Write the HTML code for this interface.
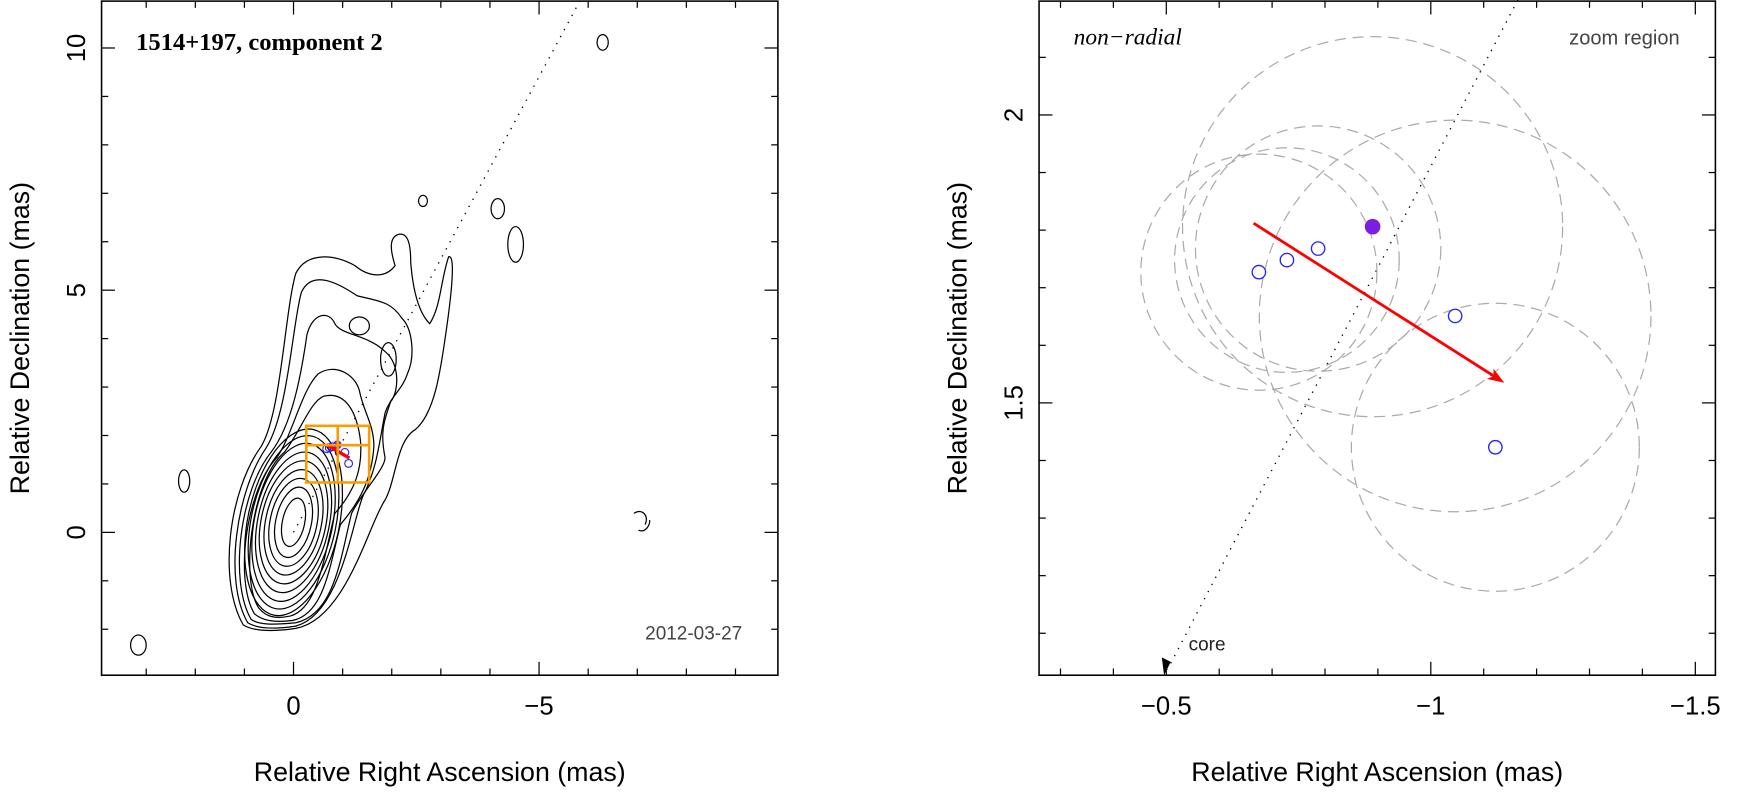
<!DOCTYPE html>
<html><head><meta charset="utf-8"><style>
body{margin:0;background:#fff}
svg{display:block;font-family:"Liberation Sans",sans-serif}
</style></head><body>
<svg width="1750" height="793">
<g transform="scale(1.11607)">
<g id="left"></g>
<g id="right"></g>
</g>
</svg>
<script>
const NS="http://www.w3.org/2000/svg";
function mk(p,t,a){const e=document.createElementNS(NS,t);for(const k in a)e.setAttribute(k,a[k]);p.appendChild(e);return e;}
// ---- data
const leftXTicks=[0,-5];
const leftYTicks=[0,5,10];
const rightXTicks=[-0.5,-1,-1.5];
const rightYTicks=[1.5,2];
const compRA=[-0.675,-0.728,-0.787,-1.046,-1.122];
const compDec=[1.727,1.748,1.768,1.651,1.423];
const compR=[0.205,0.195,0.213,0.34,0.25];
const filledRA=[-0.890];const filledDec=[1.806];
const filledR=[0.33];
const arrowRA=[-0.665,-1.139];const arrowDec=[1.812,1.535];
// ---- left panel
const L=document.getElementById('left');
const lx=ra=>263-44*ra, ly=d=>477-43.4*d;
const LX0=91,LX1=697,LY0=1,LY1=605;
mk(L,'rect',{x:LX0,y:LY0,width:LX1-LX0,height:LY1-LY0,fill:'none',stroke:'#000','stroke-width':1.4});
for(let r=3;r>=-9;r--){const x=lx(r),M=r%5===0;const s=M?12:6;
mk(L,'line',{x1:x,y1:LY1,x2:x,y2:LY1-s,stroke:'#000','stroke-width':1.1});
mk(L,'line',{x1:x,y1:LY0,x2:x,y2:LY0+s,stroke:'#000','stroke-width':1.1});}
for(let d=-2;d<=10;d++){const y=ly(d),M=d%5===0;const s=M?12:6;
mk(L,'line',{x1:LX0,y1:y,x2:LX0+s,y2:y,stroke:'#000','stroke-width':1.1});
mk(L,'line',{x1:LX1,y1:y,x2:LX1-s,y2:y,stroke:'#000','stroke-width':1.1});}
leftXTicks.forEach(v=>{const t=mk(L,'text',{x:lx(v),y:640,'font-size':23,'text-anchor':'middle'});t.textContent=v===0?'0':'\u2212'+Math.abs(v);

});
leftYTicks.forEach(v=>{const t=mk(L,'text',{x:0,y:0,'font-size':23,'text-anchor':'middle',transform:`translate(76,${ly(v)}) rotate(-90)`});t.textContent=v;

});
let t=mk(L,'text',{x:394,y:700,'font-size':24,'text-anchor':'middle'});t.textContent='Relative Right Ascension (mas)';

t=mk(L,'text',{x:0,y:0,'font-size':24,'text-anchor':'middle',transform:'translate(26,303) rotate(-90)'});t.textContent='Relative Declination (mas)';

t=mk(L,'text',{x:122,y:45,'font-size':22,'font-weight':'bold','font-family':'Liberation Serif, serif'});t.textContent='1514+197, component 2';

t=mk(L,'text',{x:665,y:573,'font-size':17,'text-anchor':'end',fill:'#444'});t.textContent='2012-03-27';

// dotted jet axis
mk(L,'line',{x1:263,y1:477,x2:520,y2:0,stroke:'#000','stroke-width':1.2,'stroke-dasharray':'1.2 6'});
// contours
const cg=mk(L,'g',{fill:'none',stroke:'#000','stroke-width':1.1});

const ell=[[10,22],[16,32],[21,40],[25,48],[29,56],[32,64],[35,72],[38,79],[41,85]];
ell.forEach(e=>mk(cg,'ellipse',{cx:263,cy:468,rx:e[0],ry:e[1],transform:'rotate(12 263 468)'}));
const paths=[
'M232,545 C215,520 225,430 255,405 C270,385 278,360 290,355 C310,350 320,370 323,395 C325,420 318,440 300,460 C290,500 285,545 260,552 C245,555 238,552 232,545Z',
'M228,550 C210,520 220,440 248,410 C262,390 270,350 285,335 C300,325 318,335 322,350 C326,370 335,380 335,400 C333,430 322,450 305,470 C295,510 290,550 262,556 C245,558 235,556 228,550Z',
'M225,555 C205,520 215,440 243,405 C262,380 270,335 275,300 C280,280 295,278 300,290 C305,300 330,300 345,315 C358,325 358,350 350,360 C345,375 340,385 345,410 C345,420 325,440 315,460 C305,500 300,550 265,558 C245,560 232,560 225,555Z',
'M222,558 C200,520 212,440 238,402 C258,372 262,290 270,262 C280,240 305,255 320,265 C340,270 350,270 360,285 C370,295 372,320 365,335 C360,350 350,355 345,370 C340,395 338,420 325,445 C315,470 305,550 265,561 C245,564 230,563 222,558Z',
'M218,560 C195,520 205,440 234,400 C252,370 255,280 265,245 C275,225 300,228 318,238 C330,248 345,250 354,238 C350,225 348,213 357,210 C366,208 368,220 368,235 C370,260 375,280 385,290 C395,275 395,250 402,230 C408,228 405,260 400,295 C395,330 390,370 372,385 C355,395 355,430 345,448 C330,470 310,555 265,563 C245,566 228,566 218,560Z'];
paths.forEach(p=>mk(cg,'path',{d:p}));
[[322,292,9,8],[348,322,7,15],[379,180,4,5],[446,187,6,9],[462,219,7,16],[540,38,5,7],[165,431,5,10],[124,578,7,9]].forEach(e=>mk(cg,'ellipse',{cx:e[0],cy:e[1],rx:e[2],ry:e[3]}));
mk(cg,'path',{d:'M568,460 C575,455 582,462 578,470 M572,475 C578,478 583,470 582,466'});
// components in left panel
compRA.forEach((r,i)=>{const c=mk(L,'circle',{cx:lx(r),cy:ly(compDec[i]),r:3.5,fill:'none',stroke:'#22f','stroke-width':1});
});
mk(L,'circle',{cx:lx(filledRA[0]),cy:ly(filledDec[0]),r:4,fill:'#7a1fe0'});
mk(L,'line',{x1:lx(arrowRA[0]),y1:ly(arrowDec[0]),x2:lx(arrowRA[1]),y2:ly(arrowDec[1]),stroke:'#f00','stroke-width':3});
// zoom box
const zb=mk(L,'g',{fill:'none',stroke:'#f5a000','stroke-width':2.3});

mk(zb,'rect',{x:lx(-0.26),y:ly(2.2),width:44*1.28,height:43.4*1.17});
mk(zb,'line',{x1:lx(-0.9),y1:ly(2.2),x2:lx(-0.9),y2:ly(1.03)});
mk(zb,'line',{x1:lx(-0.26),y1:ly(1.8),x2:lx(-1.54),y2:ly(1.8)});
// ---- right panel
const R=document.getElementById('right');
const rx=ra=>1045-474*(ra+0.5), ry=d=>103-516*(d-2);
const RX0=931,RX1=1537,RY0=1,RY1=605;
mk(R,'rect',{x:RX0,y:RY0,width:RX1-RX0,height:RY1-RY0,fill:'none',stroke:'#000','stroke-width':1.4});
for(let i=-3;i>=-15;i--){const v=i/10,x=rx(v);if(x<RX0||x>RX1)continue;const M=(i%5===0);const s=M?12:6;
mk(R,'line',{x1:x,y1:RY1,x2:x,y2:RY1-s,stroke:'#000','stroke-width':1.1});
mk(R,'line',{x1:x,y1:RY0,x2:x,y2:RY0+s,stroke:'#000','stroke-width':1.1});}
for(let i=11;i<=22;i++){const y=ry(i/10);if(y<RY0||y>RY1)continue;const M=(i%5===0);const s=M?12:6;
mk(R,'line',{x1:RX0,y1:y,x2:RX0+s,y2:y,stroke:'#000','stroke-width':1.1});
mk(R,'line',{x1:RX1,y1:y,x2:RX1-s,y2:y,stroke:'#000','stroke-width':1.1});}
rightXTicks.forEach(v=>{const t=mk(R,'text',{x:rx(v),y:640,'font-size':23,'text-anchor':'middle'});t.textContent='\u2212'+Math.abs(v);

});
rightYTicks.forEach(v=>{const t=mk(R,'text',{x:0,y:0,'font-size':23,'text-anchor':'middle',transform:`translate(916,${ry(v)}) rotate(-90)`});t.textContent=v;

});
t=mk(R,'text',{x:1234,y:700,'font-size':24,'text-anchor':'middle'});t.textContent='Relative Right Ascension (mas)';

t=mk(R,'text',{x:0,y:0,'font-size':24,'text-anchor':'middle',transform:'translate(866,303) rotate(-90)'});t.textContent='Relative Declination (mas)';

t=mk(R,'text',{x:962,y:40,'font-size':21,'font-style':'italic','font-family':'Liberation Serif, serif'});t.textContent='non\u2212radial';

t=mk(R,'text',{x:1505,y:40,'font-size':18,'text-anchor':'end',fill:'#444'});t.textContent='zoom region';

t=mk(R,'text',{x:1065,y:583,'font-size':17,fill:'#222'});t.textContent='core';

// dotted line to core
mk(R,'line',{x1:1360,y1:0,x2:1046,y2:600,stroke:'#000','stroke-width':1.2,'stroke-dasharray':'1.2 6'});
mk(R,'path',{d:'M1043,605 L1041,589 L1049,593 Z',fill:'#000'});
// dashed circles
compRA.forEach((r,i)=>{const c=mk(R,'circle',{cx:rx(r),cy:ry(compDec[i]),r:compR[i]*516,fill:'none',stroke:'#aaa','stroke-width':1.1,'stroke-dasharray':'10 6'});
});
{const c=mk(R,'circle',{cx:rx(filledRA[0]),cy:ry(filledDec[0]),r:filledR[0]*516,fill:'none',stroke:'#aaa','stroke-width':1.1,'stroke-dasharray':'10 6'});
}
compRA.forEach((r,i)=>{const c=mk(R,'circle',{cx:rx(r),cy:ry(compDec[i]),r:6,fill:'#fff',stroke:'#22f','stroke-width':1.2});
});
{const c=mk(R,'circle',{cx:rx(filledRA[0]),cy:ry(filledDec[0]),r:7,fill:'#7a1fe0'});
}
// red arrow
{const x1=rx(arrowRA[0]),y1=ry(arrowDec[0]),x2=rx(arrowRA[1]),y2=ry(arrowDec[1]);
const a=Math.atan2(y2-y1,x2-x1),h=16;
const g=mk(R,'g',{});
mk(g,'line',{x1:x1,y1:y1,x2:x2-Math.cos(a)*8,y2:y2-Math.sin(a)*8,stroke:'#f00','stroke-width':2.5});
mk(g,'path',{d:`M${x2},${y2} L${x2-h*Math.cos(a-0.35)},${y2-h*Math.sin(a-0.35)} L${x2-h*0.7*Math.cos(a)},${y2-h*0.7*Math.sin(a)} L${x2-h*Math.cos(a+0.35)},${y2-h*Math.sin(a+0.35)}Z`,fill:'#f00'});}
</script>
</body></html>
